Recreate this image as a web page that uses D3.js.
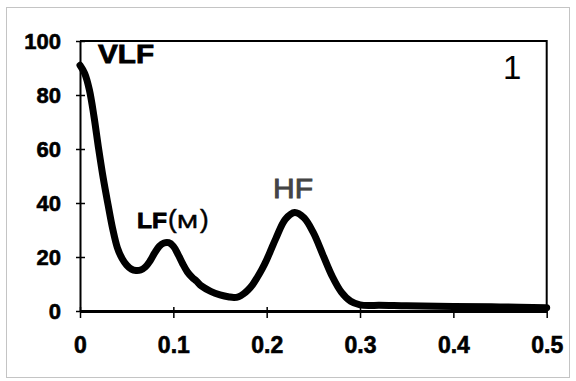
<!DOCTYPE html>
<html><head><meta charset="utf-8">
<script src="https://cdn.jsdelivr.net/npm/d3@7"></script>
<style>html,body{margin:0;padding:0;background:#fff;}svg{display:block;font-family:"Liberation Sans",Arial,sans-serif;}</style>
</head><body>
<svg id="c" width="576" height="381"></svg>
<script>
const freq = [0,0.005,0.01,0.015,0.02,0.025,0.03,0.035,0.04,0.045,0.05,0.055,0.06,0.065,0.07,0.075,0.08,0.085,0.09,0.095,0.1,0.105,0.11,0.115,0.12,0.125,0.13,0.14,0.15,0.16,0.165,0.17,0.175,0.18,0.185,0.19,0.195,0.2,0.205,0.21,0.22,0.23,0.24,0.25,0.26,0.27,0.28,0.29,0.3,0.31,0.32,0.35,0.4,0.45,0.5];
const power = [91,88,82,72,60,49,39.5,30.5,23.5,19.5,17,15.5,15,15.2,16.3,18.5,21.5,24,25.2,25.3,24,21,17.5,14.5,12.5,11,9.3,7.3,6,5.2,5,5.3,6.3,7.8,9.8,12.5,15.5,19,23,27,34,36.5,34.5,29,21,13,7,3.6,2.3,2,2.1,1.9,1.7,1.5,1.2];
const xTicks = [0,0.1,0.2,0.3,0.4,0.5];
const yTicks = [0,20,40,60,80,100];
const xTickLabels = ["0","0.1","0.2","0.3","0.4","0.5"];
const yTickLabels = ["0","20","40","60","80","100"];

const svg = d3.select("#c");
const L=80,R=546.7,T=41,B=311;
const x = d3.scaleLinear().domain([0,0.5]).range([L,R]);
const y = d3.scaleLinear().domain([0,100]).range([B,T]);

// outer frame
svg.append("rect").attr("x",6.5).attr("y",7.5).attr("width",563).attr("height",370)
  .attr("fill","none").attr("stroke","#888").attr("stroke-width",1).attr("stroke-dasharray","1,1");

// plot box top/right
svg.append("path").attr("d",`M${L},${T}H${R}V${B}`).attr("fill","none").attr("stroke","#000").attr("stroke-width",2);

// y axis
const ya = svg.append("g").attr("transform",`translate(${L},0)`)
  .call(d3.axisLeft(y).tickValues(yTicks).tickSize(0).tickFormat((d,i)=>yTickLabels[i]));
ya.select(".domain").attr("stroke","#000").attr("stroke-width",2);
ya.selectAll("text").attr("x",-19).attr("dy","0.36em").attr("font-size",22).attr("font-weight","bold").attr("fill","#000")
  .attr("stroke","#000").attr("stroke-width",0.6).attr("font-family","Liberation Sans, Arial, sans-serif");
ya.selectAll(".tick").append("line").attr("x1",-4).attr("x2",5).attr("stroke","#000").attr("stroke-width",1.5);

// x axis
const xa = svg.append("g").attr("transform",`translate(0,${B})`)
  .call(d3.axisBottom(x).tickValues(xTicks).tickSize(0).tickFormat((d,i)=>xTickLabels[i]));
xa.select(".domain").attr("stroke","#000").attr("stroke-width",3);
xa.selectAll("text").attr("y",34).attr("dy","0.36em").attr("font-size",23).attr("font-weight","bold").attr("fill","#000")
  .attr("stroke","#000").attr("stroke-width",0.6).attr("font-family","Liberation Sans, Arial, sans-serif");
xa.selectAll(".tick").append("line").attr("y1",-4).attr("y2",7).attr("stroke","#000").attr("stroke-width",1.5);

// curve
const line = d3.line().x((d,i)=>x(freq[i])).y(d=>y(d)).curve(d3.curveCatmullRom);
svg.append("path").attr("d",line(power)).attr("fill","none").attr("stroke","#000")
  .attr("stroke-width",7).attr("stroke-linecap","round").attr("stroke-linejoin","round");

// labels
svg.append("text").attr("x",98).attr("y",63).text("VLF")
  .attr("font-size",25.5).attr("font-weight","bold").attr("stroke","#000").attr("stroke-width",0.8)
  .attr("textLength",56).attr("lengthAdjust","spacingAndGlyphs");
svg.append("text").attr("x",137).attr("y",228).text("LF").attr("font-weight","bold").attr("font-size",22.5)
  .attr("stroke","#000").attr("stroke-width",0.8)
  .attr("textLength",30).attr("lengthAdjust","spacingAndGlyphs");
svg.append("text").attr("x",168).attr("y",228).text("(").attr("font-size",26).attr("stroke","#000").attr("stroke-width",0.5);
svg.append("text").attr("x",177).attr("y",228).text("M").attr("font-size",18)
  .attr("stroke","#000").attr("stroke-width",0.5)
  .attr("textLength",21).attr("lengthAdjust","spacingAndGlyphs");
svg.append("text").attr("x",200).attr("y",228).text(")").attr("font-size",26).attr("stroke","#000").attr("stroke-width",0.5);
svg.append("text").attr("x",273).attr("y",198).text("HF")
  .attr("font-size",28).attr("fill","#444").attr("stroke","#444").attr("stroke-width",0.9)
  .attr("textLength",40).attr("lengthAdjust","spacingAndGlyphs");
svg.append("text").attr("x",503).attr("y",79).text("1").attr("font-size",33);
</script>
</body></html>
